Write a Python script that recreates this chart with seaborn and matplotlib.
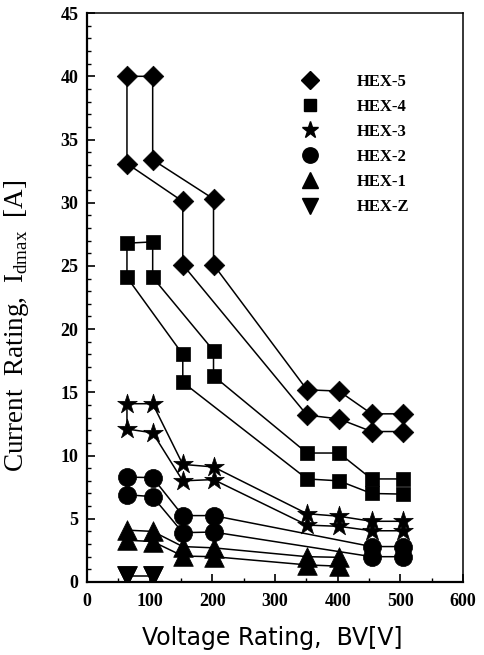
import matplotlib
matplotlib.use("Agg")
import matplotlib.pyplot as plt
from matplotlib.lines import Line2D
from matplotlib.ticker import MultipleLocator
import pandas as pd
import seaborn as sns

# Voltages (V) and currents (A): upper / lower value at each voltage
series_names = ["HEX-5", "HEX-4", "HEX-3", "HEX-2", "HEX-1", "HEX-Z"]

hex5_v = [64, 105, 153, 202, 351, 402, 454, 504]
hex5_up = [40.0, 40.0, 30.1, 30.3, 15.2, 15.1, 13.3, 13.3]
hex5_lo = [33.1, 33.4, 25.1, 25.1, 13.2, 12.9, 11.9, 11.9]

hex4_v = [64, 105, 153, 202, 351, 402, 454, 504]
hex4_up = [26.8, 26.9, 18.0, 18.3, 10.2, 10.2, 8.15, 8.15]
hex4_lo = [24.1, 24.1, 15.8, 16.3, 8.15, 8.0, 7.0, 6.95]

hex3_v = [64, 105, 153, 202, 351, 402, 454, 504]
hex3_up = [14.1, 14.1, 9.3, 9.1, 5.4, 5.2, 4.8, 4.8]
hex3_lo = [12.1, 11.8, 8.0, 8.1, 4.5, 4.4, 4.05, 4.05]

hex2_v = [64, 105, 153, 202, 454, 504]
hex2_up = [8.3, 8.25, 5.25, 5.25, 2.8, 2.8]
hex2_lo = [6.9, 6.75, 3.9, 3.95, 2.0, 2.0]

hex1_v = [64, 105, 153, 202, 351, 402]
hex1_up = [4.1, 4.0, 2.8, 2.7, 2.0, 1.95]
hex1_lo = [3.3, 3.2, 2.05, 2.0, 1.35, 1.25]

hexz_v = [64, 105]
hexz_up = [0.5, 0.5]
hexz_lo = [0.5, 0.5]

# connecting paths: (index, 'u'/'l')
path_a = [(0, "l"), (0, "u"), (1, "u"), (1, "l"), (3, "u"), (3, "l"),
          (4, "u"), (5, "u"), (6, "u"), (7, "u")]
path_b = [(0, "l"), (2, "u"), (2, "l"), (4, "l"), (5, "l"), (6, "l"), (7, "l")]
path_star_a = [(0, "l"), (0, "u")] + [(i, "u") for i in range(1, 8)]
path_star_b = [(i, "l") for i in range(8)]


def straight(n, k):
    return [(i, k) for i in range(n)]


data = {
    "HEX-5": (hex5_v, hex5_up, hex5_lo, [path_a, path_b]),
    "HEX-4": (hex4_v, hex4_up, hex4_lo, [path_a, path_b]),
    "HEX-3": (hex3_v, hex3_up, hex3_lo, [path_star_a, path_star_b]),
    "HEX-2": (hex2_v, hex2_up, hex2_lo, [straight(6, "u"), straight(6, "l")]),
    "HEX-1": (hex1_v, hex1_up, hex1_lo, [straight(6, "u"), straight(6, "l")]),
    "HEX-Z": (hexz_v, hexz_up, hexz_lo, [straight(2, "u")]),
}

markers = {"HEX-5": "D", "HEX-4": "s", "HEX-3": "*", "HEX-2": "o", "HEX-1": "^", "HEX-Z": "v"}
msizes = {"HEX-5": 110, "HEX-4": 95, "HEX-3": 220, "HEX-2": 170, "HEX-1": 200, "HEX-Z": 200}

sns.set_theme(style="ticks")
plt.rcParams["font.family"] = ["Liberation Serif", "DejaVu Serif"]
plt.rcParams["mathtext.fontset"] = "custom"
plt.rcParams["mathtext.rm"] = "Liberation Serif"
for key in ["text.color", "axes.labelcolor", "xtick.color", "ytick.color", "axes.edgecolor"]:
    plt.rcParams[key] = "black"

fig = plt.figure(figsize=(4.85, 6.55), dpi=100)
ax = fig.add_axes([0.179, 0.1115, 0.776, 0.8685])

# lines first
for name in series_names:
    v, up, lo, paths = data[name]
    for p in paths:
        xs = [v[i] for i, k in p]
        ys = [up[i] if k == "u" else lo[i] for i, k in p]
        sns.lineplot(x=xs, y=ys, sort=False, estimator=None, color="black",
                     lw=1.1, ax=ax, legend=False)

# markers
for name in series_names:
    v, up, lo, paths = data[name]
    df = pd.DataFrame({"V": v + v, "I": up + lo})
    sns.scatterplot(data=df, x="V", y="I", marker=markers[name], s=msizes[name],
                    color="black", edgecolor="black", linewidth=0.5, ax=ax,
                    legend=False, zorder=3)

handles = [Line2D([], [], ls="none", marker=markers[n], color="black",
                  markersize=(msizes[n] ** 0.5) * 0.85) for n in series_names]
leg = ax.legend(handles, series_names, loc="upper left", bbox_to_anchor=(0.53, 0.92),
                frameon=False, handlelength=1.0, handletextpad=2.3, labelspacing=0.55,
                prop={"family": "Liberation Serif", "weight": "bold", "size": 12})

ax.set_xlim(0, 600)
ax.set_ylim(0, 45)
ax.xaxis.set_major_locator(MultipleLocator(100))
ax.xaxis.set_minor_locator(MultipleLocator(50))
ax.yaxis.set_major_locator(MultipleLocator(5))
ax.yaxis.set_minor_locator(MultipleLocator(1))
ax.tick_params(which="both", direction="in", top=False, right=False, color="black")
ax.tick_params(which="major", length=6, width=1.2)
ax.tick_params(which="minor", length=3, width=1.0)
ax.tick_params(axis="y", which="major", pad=6)
ax.tick_params(axis="x", which="major", pad=8)
for lab in ax.get_xticklabels() + ax.get_yticklabels():
    lab.set_fontweight("bold")
    lab.set_fontsize(13)
    lab.set_fontfamily("Liberation Serif")

for side in ["left", "bottom"]:
    ax.spines[side].set_linewidth(1.6)
for side in ["top", "right"]:
    ax.spines[side].set_linewidth(1.1)

ax.set_xlabel("Voltage Rating,  BV[V]", fontsize=17, family="DejaVu Sans")
ax.xaxis.set_label_coords(0.492, -0.078)
ax.set_ylabel(r"Current  Rating,  I$_{\mathrm{dmax}}$  [A]", fontsize=19.5)
ax.yaxis.set_label_coords(-0.148, 0.45)

fig.savefig("out.png", dpi=100)
